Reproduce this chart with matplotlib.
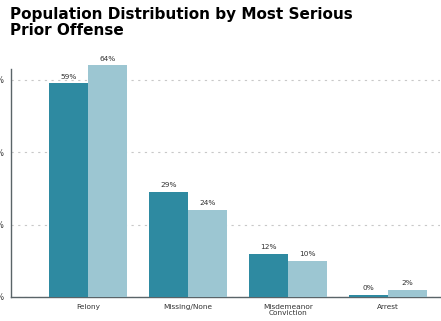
import numpy as np
import matplotlib
matplotlib.use('Agg')
import matplotlib.pyplot as plt
from matplotlib.ticker import FuncFormatter

categories = ['Felony', 'Missing/None', 'Misdemeanor\nConviction', 'Arrest']
series_a = [59, 29, 12, 0.6]
series_b = [64, 24, 10, 2]
labels_a = ['59%', '29%', '12%', '0%']
labels_b = ['64%', '24%', '10%', '2%']
yticks = [0, 20, 40, 60]

dark = '#2e8aa1'
light = '#9cc6d2'
text_color = '#333333'

W, H = 441, 321
fig = plt.figure(figsize=(W / 100, H / 100), dpi=100)
ax = fig.add_axes([11 / W, 1 - 297 / H, 429 / W, (297 - 58) / H])

x = np.arange(len(categories))
width = 0.39
bars_a = ax.bar(x - width / 2, series_a, width, color=dark, zorder=3)
bars_b = ax.bar(x + width / 2, series_b, width, color=light, zorder=3)

for bars, labs in ((bars_a, labels_a), (bars_b, labels_b)):
    for b, lab in zip(bars, labs):
        ax.text(b.get_x() + b.get_width() / 2, b.get_height() + 1.0, lab,
                ha='center', va='bottom', fontsize=5.3, color=text_color)

ax.set_xlim(-0.77, 3.52)
ax.set_ylim(0, 66)
ax.set_xticks(x)
ax.set_xticklabels(categories, fontsize=5.3, color=text_color, linespacing=1.1)
ax.set_yticks(yticks)
ax.yaxis.set_major_formatter(FuncFormatter(lambda v, p: '%d%%' % v))
ax.tick_params(axis='y', length=0, pad=5, labelsize=5.5, labelcolor=text_color)
ax.tick_params(axis='x', length=0, pad=5)

ax.grid(axis='y', linestyle=(0, (2, 4)), color='#c8c8c8', linewidth=0.8, zorder=0)
for s in ('top', 'right'):
    ax.spines[s].set_visible(False)
for s in ('left', 'bottom'):
    ax.spines[s].set_color('#5a6468')
    ax.spines[s].set_linewidth(1.0)
ax.spines['left'].set_bounds(0, 63)

fig.text(10 / W, 1 - 7 / H, 'Population Distribution by Most Serious\nPrior Offense',
         ha='left', va='top', fontsize=11, fontweight='bold', color='black',
         linespacing=1.1)

fig.savefig('out.png', dpi=100)
